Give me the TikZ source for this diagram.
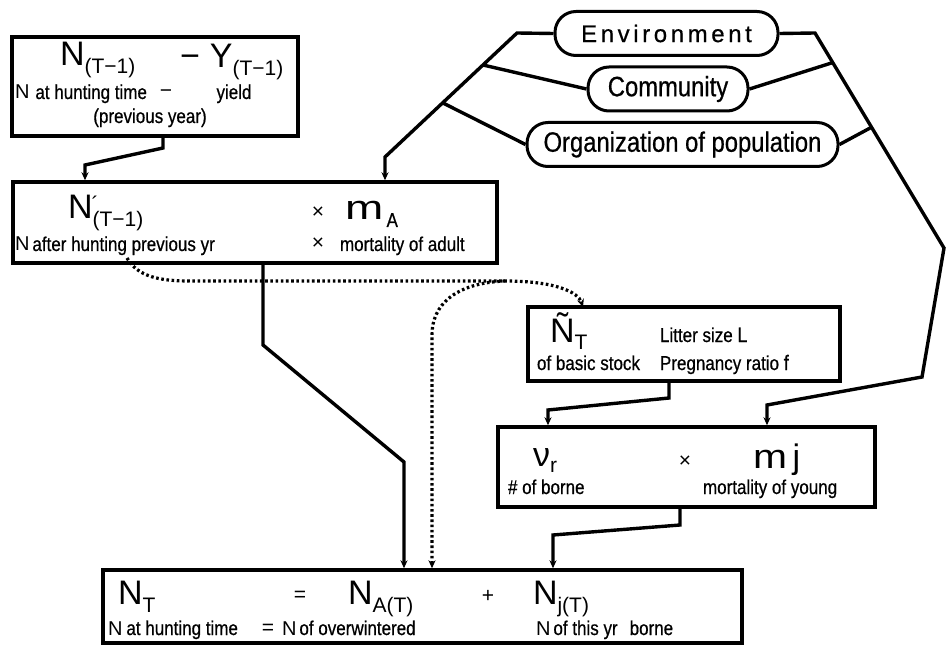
\documentclass[tikz,border=0pt]{standalone}
\usepackage{fontspec}
\setmainfont{Liberation Sans}
\newfontfamily\cf[FakeStretch=0.85,FakeBold=0.6]{Liberation Sans}
\newfontfamily\wf[LetterSpace=15,FakeBold=0.6]{Liberation Sans}
\usetikzlibrary{arrows.meta}
\newcommand\fsBig{\fontsize{34}{34}\selectfont}
\newcommand\fsSub{\fontsize{21}{21}\selectfont}
\newcommand\fsSm{\cf\fontsize{20}{20}\selectfont}
\newcommand\fsMid{\fontsize{20}{20}\selectfont}
\tikzset{
  box/.style={draw, line width=3.4pt, inner sep=0pt},
  pill/.style={draw, line width=3pt, inner sep=0pt, rounded corners=21pt, minimum height=44pt},
  txt/.style={inner sep=0pt, outer sep=0pt},
  link/.style={line width=3.4pt, line join=miter},
  conn/.style={link, -{Stealth[length=8pt,width=7pt]}},
  dotc/.style={line width=3.2pt, dash pattern=on 2.6pt off 2.6pt, -{Stealth[length=8pt,width=7pt]}}
}
\begin{document}
\begin{tikzpicture}[x=1pt,y=-1pt]
\useasboundingbox (0,0) rectangle (947,652);
\fill[white] (0,0) rectangle (947,652);

% boxes
\node[box, minimum width=286pt, minimum height=99pt] (b1) at (155,86.5) {};
\node[box, minimum width=484pt, minimum height=81pt] (b2) at (255,222.5) {};
\node[box, minimum width=312pt, minimum height=74pt] (b3) at (684,344) {};
\node[box, minimum width=377pt, minimum height=80pt] (b4) at (686.5,467) {};
\node[box, minimum width=639pt, minimum height=73pt] (b5) at (422.5,606.5) {};

% pills
\node[pill, minimum width=223pt] (env) at (666.5,33.5) {\wf\fontsize{24}{24}\selectfont Environment};
\node[pill, minimum width=160pt] (com) at (668,89) {\cf\fontsize{28}{28}\selectfont Community};
\node[pill, minimum width=311pt] (org) at (682.5,144.5) {\cf\fontsize{28}{28}\selectfont Organization of population};

% box 1 text
\node[txt, anchor=base west] (b1n) at (60,66) {\fsBig N\raisebox{-8pt}{\fsSub (T−1)}};
\node[txt, anchor=base west] (b1y) at (180,68) {\fsBig −\hspace{10pt}Y\raisebox{-8pt}{\fsSub (T−1)}};
\node[txt, anchor=base west] (b1l) at (15,99) {\fsMid N\hspace{6pt}\fsSm at hunting time};
\node[txt, anchor=base] (b1m) at (166,98) {\fsSub −};
\node[txt, anchor=base] (b1yl) at (234,99) {\fsSm yield};
\node[txt, anchor=base] (b1p) at (150,123) {\fsSm (previous year)};

% box 2 text
\node[txt, anchor=base west] (b2n) at (68,219) {\fsBig N\raisebox{7pt}{\fsSub\hspace{-1pt}´}\hspace{-6pt}\raisebox{-8pt}{\fsSub (T−1)}};
\node[txt] (b2x1) at (318,213) {\fsSub ×};
\node[txt, anchor=base west] (b2m) at (345,220) {\fsBig\scalebox{1.35}[1]{m}\raisebox{-7pt}{\fsSm\,A}};
\node[txt] (b2x2) at (318,244) {\fsSub ×};
\node[txt, anchor=base west] (b2l) at (15,251) {\fsMid N\hspace{3pt}\fsSm after hunting previous yr};
\node[txt, anchor=base west] (b2r) at (340,251) {\fsSm mortality of adult};

% box 3 text
\node[txt, anchor=base west] (b3n) at (550,342) {\fsBig Ñ\raisebox{-7pt}{\fsSub T}};
\node[txt, anchor=base west] (b3a) at (537,370) {\fsSm of basic stock};
\node[txt, anchor=base west] (b3b) at (660,342) {\fsSm Litter size \fsSub L};
\node[txt, anchor=base west] (b3c) at (660,370) {\fsSm Pregnancy ratio \fsSub f};

% box 4 text
\node[txt, anchor=base west] (b4n) at (533,466) {\fsBig ν\raisebox{-6pt}{\fsSub r}};
\node[txt, anchor=base west] (b4a) at (508,494) {\fsSm \# of borne};
\node[txt] (b4x) at (685,462) {\fsSub ×};
\node[txt, anchor=base west] (b4m) at (753,468) {\fsBig\scalebox{1.2}[1]{m}\,j};
\node[txt, anchor=base west] (b4b) at (703,494) {\fsSm mortality of young};

% box 5 text
\node[txt, anchor=base west] (b5a) at (118,604) {\fsBig N\raisebox{-8pt}{\fsSub T}};
\node[txt] (b5eq) at (300,596) {\fsSub =};
\node[txt, anchor=base west] (b5b) at (348,604) {\fsBig N\raisebox{-8pt}{\fsSub A(T)}};
\node[txt] (b5p) at (488,596) {\fsSub +};
\node[txt, anchor=base west] (b5c) at (533,604) {\fsBig N\raisebox{-8pt}{\fsSub j(T)}};
\node[txt, anchor=base west] (b5l1) at (108,635) {\fsMid N\hspace{4pt}\fsSm at hunting time};
\node[txt] (b5eq2) at (268,629) {\fsSub =};
\node[txt, anchor=base west] (b5l2) at (282,635) {\fsMid N\hspace{3pt}\fsSm of overwintered};
\node[txt, anchor=base west] (b5l3) at (536,635) {\fsMid N\hspace{3pt}\fsSm of this yr\hspace{12pt}borne};

% junction coordinates
\coordinate (a1) at (163,148);
\coordinate (a2) at (85,165);
\coordinate (e1) at (517,33);
\coordinate (e2) at (385,157);
\coordinate (jc) at (483,65);
\coordinate (jo) at (443,103);
\coordinate (r1) at (815,33);
\coordinate (r2) at (944,248);
\coordinate (r3) at (922,377);
\coordinate (r4) at (767,405);
\coordinate (rc) at (833,62.5);
\coordinate (ro) at (872,127);
\coordinate (d1) at (263,345);
\coordinate (d2) at (404,462);
\coordinate (s1) at (669,398);
\coordinate (s2) at (548,410);
\coordinate (f1) at (680,525);
\coordinate (f2) at (553,535);
\coordinate (p0) at (127,258);
\coordinate (p1) at (190,281);
\coordinate (p2) at (505,281);
\coordinate (q1) at (432,335);

% connectors
\draw[conn] (a1 |- b1.south) -- (a1) -- (a2) -- (a2 |- b2.north);
\draw[conn] (env.west) -- (e1) -- (e2) -- (e2 |- b2.north);
\draw[link] (jc) -- (com.west);
\draw[link] (jo) -- (org.west);
\draw[conn] (env.east) -- (r1) -- (r2) -- (r3) -- (r4) -- (r4 |- b4.north);
\draw[link] (com.east) -- (rc);
\draw[link] (org.east) -- (ro);
\draw[conn] (d1 |- b2.south) -- (d1) -- (d2) -- (d2 |- b5.north);
\draw[conn] (s1 |- b3.south) -- (s1) -- (s2) -- (s2 |- b4.north);
\draw[conn] (f1 |- b4.south) -- (f1) -- (f2) -- (f2 |- b5.north);

% dotted
\draw[dotc] (p0) .. controls (138,277) and (160,281) .. (p1) -- (p2) .. controls (555,281) and (578,292) .. (583,307);
\draw[dotc] (p2) .. controls (455,283) and (432,305) .. (q1) -- (q1 |- b5.north);
\end{tikzpicture}
\end{document}
